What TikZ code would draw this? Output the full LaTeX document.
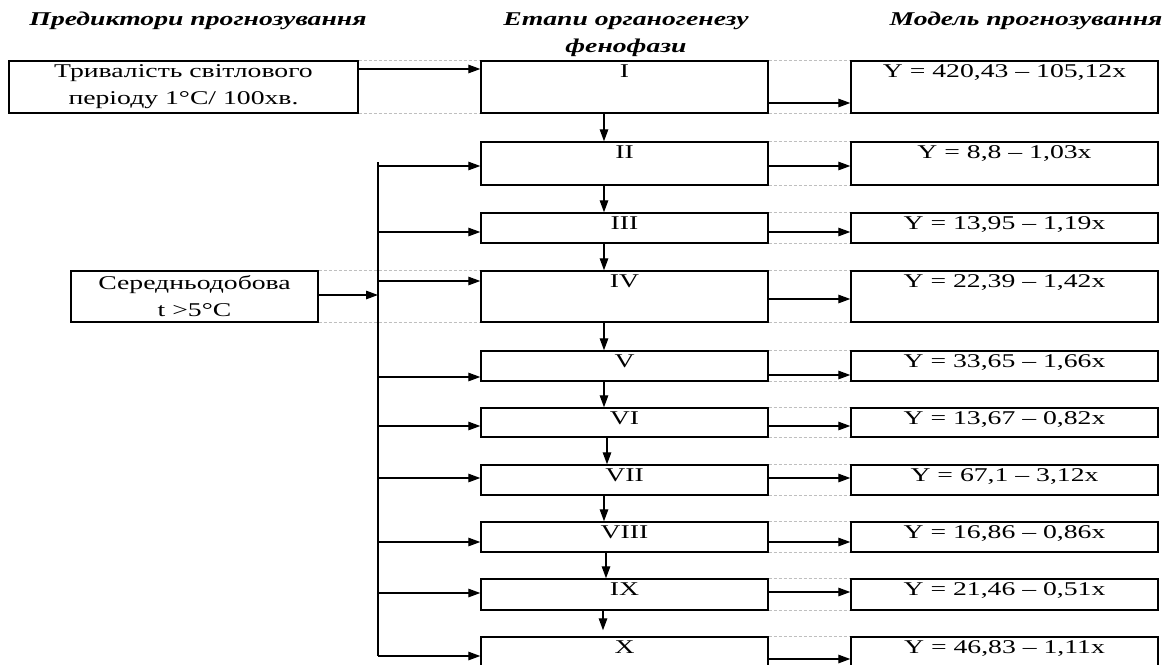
\documentclass[tikz,border=0pt]{standalone}
\usepackage{fontspec}
\setmainfont{Liberation Serif}
\usepackage{graphicx}
\usepackage{tikz}
\usetikzlibrary{arrows.meta}
\usetikzlibrary{positioning}
\newcommand{\wide}[1]{\scalebox{1.42}[1]{#1}}
\tikzset{
  blk/.style={draw, line width=1.4pt, inner sep=0pt, font=\fontsize{19.5}{27}\selectfont, align=center},
  lbl/.style={anchor=north, inner sep=4pt, font=\fontsize{19.5}{27}\selectfont},
  hdr/.style={inner sep=0pt, font=\fontsize{19.5}{27}\selectfont\bfseries\itshape, align=center},
  arr/.style={line width=1.3pt, -{Triangle[length=12pt,width=8.5pt]}},
  ghost/.style={draw=gray!50, line width=0.7pt, dash pattern=on 3pt off 2pt}
}

\begin{document}
\begin{tikzpicture}[x=1pt, y=-1pt]
\useasboundingbox (0,0) rectangle (1169,664);
% column headers
\node[hdr] (hpred) at (198,21) {\wide{Предиктори прогнозування}};
\node[hdr] (hstage) at (626,35) {\wide{Етапи органогенезу}\\\wide{фенофази}};
\node[hdr] (hmodel) at (1026,21) {\wide{Модель прогнозування}};
% predictors
\node[blk, minimum width=349pt, minimum height=52pt] (pT) at (183.5,87) {\wide{Тривалість світлового}\\\wide{періоду 1°С/ 100хв.}};
\node[blk, minimum width=247pt, minimum height=51pt] (pS) at (194.5,296.5) {\wide{Середньодобова}\\\wide{t >5°C}};
% stages
\node[blk, minimum width=287pt, minimum height=52pt] (s1) at (624.5,87) {};
\node[lbl] (s1t) at (s1.north) {\wide{I}};
\node[blk, minimum width=287pt, minimum height=43pt] (s2) at (624.5,163.5) {};
\node[lbl] (s2t) at (s2.north) {\wide{II}};
\node[blk, minimum width=287pt, minimum height=30pt] (s3) at (624.5,228) {};
\node[lbl] (s3t) at (s3.north) {\wide{III}};
\node[blk, minimum width=287pt, minimum height=51pt] (s4) at (624.5,296.5) {};
\node[lbl] (s4t) at (s4.north) {\wide{IV}};
\node[blk, minimum width=287pt, minimum height=30pt] (s5) at (624.5,366) {};
\node[lbl] (s5t) at (s5.north) {\wide{V}};
\node[blk, minimum width=287pt, minimum height=29pt] (s6) at (624.5,422.5) {};
\node[lbl] (s6t) at (s6.north) {\wide{VI}};
\node[blk, minimum width=287pt, minimum height=30pt] (s7) at (624.5,480) {};
\node[lbl] (s7t) at (s7.north) {\wide{VII}};
\node[blk, minimum width=287pt, minimum height=30pt] (s8) at (624.5,537) {};
\node[lbl] (s8t) at (s8.north) {\wide{VIII}};
\node[blk, minimum width=287pt, minimum height=31pt] (s9) at (624.5,594.5) {};
\node[lbl] (s9t) at (s9.north) {\wide{IX}};
\node[blk, minimum width=287pt, minimum height=52pt] (s10) at (624.5,663) {};
\node[lbl] (s10t) at (s10.north) {\wide{X}};
% models
\node[blk, minimum width=307pt, minimum height=52pt] (m1) at (1004.5,87) {};
\node[lbl] (m1t) at (m1.north) {\wide{Y = 420,43 – 105,12x}};
\node[blk, minimum width=307pt, minimum height=43pt] (m2) at (1004.5,163.5) {};
\node[lbl] (m2t) at (m2.north) {\wide{Y = 8,8 – 1,03x}};
\node[blk, minimum width=307pt, minimum height=30pt] (m3) at (1004.5,228) {};
\node[lbl] (m3t) at (m3.north) {\wide{Y = 13,95 – 1,19x}};
\node[blk, minimum width=307pt, minimum height=51pt] (m4) at (1004.5,296.5) {};
\node[lbl] (m4t) at (m4.north) {\wide{Y = 22,39 – 1,42x}};
\node[blk, minimum width=307pt, minimum height=30pt] (m5) at (1004.5,366) {};
\node[lbl] (m5t) at (m5.north) {\wide{Y = 33,65 – 1,66x}};
\node[blk, minimum width=307pt, minimum height=29pt] (m6) at (1004.5,422.5) {};
\node[lbl] (m6t) at (m6.north) {\wide{Y = 13,67 – 0,82x}};
\node[blk, minimum width=307pt, minimum height=30pt] (m7) at (1004.5,480) {};
\node[lbl] (m7t) at (m7.north) {\wide{Y = 67,1 – 3,12x}};
\node[blk, minimum width=307pt, minimum height=30pt] (m8) at (1004.5,537) {};
\node[lbl] (m8t) at (m8.north) {\wide{Y = 16,86 – 0,86x}};
\node[blk, minimum width=307pt, minimum height=31pt] (m9) at (1004.5,594.5) {};
\node[lbl] (m9t) at (m9.north) {\wide{Y = 21,46 – 0,51x}};
\node[blk, minimum width=307pt, minimum height=52pt] (m10) at (1004.5,663) {};
\node[lbl] (m10t) at (m10.north) {\wide{Y = 46,83 – 1,11x}};
% faint guide lines
\draw[ghost] (pT.north east) -- (s1.north west);
\draw[ghost] (pT.south east) -- (s1.south west);
\draw[ghost] (pS.north east) -- (s4.north west);
\draw[ghost] (pS.south east) -- (s4.south west);
\draw[ghost] (s1.north east) -- (m1.north west);
\draw[ghost] (s1.south east) -- (m1.south west);
\draw[ghost] (s2.north east) -- (m2.north west);
\draw[ghost] (s2.south east) -- (m2.south west);
\draw[ghost] (s3.north east) -- (m3.north west);
\draw[ghost] (s3.south east) -- (m3.south west);
\draw[ghost] (s4.north east) -- (m4.north west);
\draw[ghost] (s4.south east) -- (m4.south west);
\draw[ghost] (s5.north east) -- (m5.north west);
\draw[ghost] (s5.south east) -- (m5.south west);
\draw[ghost] (s6.north east) -- (m6.north west);
\draw[ghost] (s6.south east) -- (m6.south west);
\draw[ghost] (s7.north east) -- (m7.north west);
\draw[ghost] (s7.south east) -- (m7.south west);
\draw[ghost] (s8.north east) -- (m8.north west);
\draw[ghost] (s8.south east) -- (m8.south west);
\draw[ghost] (s9.north east) -- (m9.north west);
\draw[ghost] (s9.south east) -- (m9.south west);
\draw[ghost] (s10.north east) -- (m10.north west);
% bus from the temperature predictor
\coordinate (bustop) at (378,162);
\coordinate (busbot) at (378,656);
\draw[line width=1.3pt] (bustop) -- (busbot);
\draw[arr] (pS.east |- 0,295) -- (bustop |- 0,295);
\draw[arr] (pT.east |- 0,69) -- (s1.west |- 0,69);
\draw[arr] (bustop |- 0,166) -- (s2.west |- 0,166);
\draw[arr] (bustop |- 0,232) -- (s3.west |- 0,232);
\draw[arr] (bustop |- 0,281) -- (s4.west |- 0,281);
\draw[arr] (bustop |- 0,377) -- (s5.west |- 0,377);
\draw[arr] (bustop |- 0,426) -- (s6.west |- 0,426);
\draw[arr] (bustop |- 0,478) -- (s7.west |- 0,478);
\draw[arr] (bustop |- 0,542) -- (s8.west |- 0,542);
\draw[arr] (bustop |- 0,593) -- (s9.west |- 0,593);
\draw[arr] (bustop |- 0,656) -- (s10.west |- 0,656);
% stage sequence
\draw[arr] (604,0 |- s1.south) -- (604,0 |- s2.north);
\draw[arr] (604,0 |- s2.south) -- (604,0 |- s3.north);
\draw[arr] (604,0 |- s3.south) -- (604,0 |- s4.north);
\draw[arr] (604,0 |- s4.south) -- (604,0 |- s5.north);
\draw[arr] (604,0 |- s5.south) -- (604,0 |- s6.north);
\draw[arr] (607,0 |- s6.south) -- (607,0 |- s7.north);
\draw[arr] (604,0 |- s7.south) -- (604,0 |- s8.north);
\draw[arr] (606,0 |- s8.south) -- (606,0 |- s9.north);
\draw[arr] (603,0 |- s9.south) -- ([yshift=6pt]603,0 |- s10.north);
% stage to model
\draw[arr] (s1.east |- 0,103) -- (m1.west |- 0,103);
\draw[arr] (s2.east |- 0,166) -- (m2.west |- 0,166);
\draw[arr] (s3.east |- 0,232) -- (m3.west |- 0,232);
\draw[arr] (s4.east |- 0,299) -- (m4.west |- 0,299);
\draw[arr] (s5.east |- 0,375) -- (m5.west |- 0,375);
\draw[arr] (s6.east |- 0,426) -- (m6.west |- 0,426);
\draw[arr] (s7.east |- 0,478) -- (m7.west |- 0,478);
\draw[arr] (s8.east |- 0,542) -- (m8.west |- 0,542);
\draw[arr] (s9.east |- 0,592) -- (m9.west |- 0,592);
\draw[arr] (s10.east |- 0,659) -- (m10.west |- 0,659);
\end{tikzpicture}
\end{document}
